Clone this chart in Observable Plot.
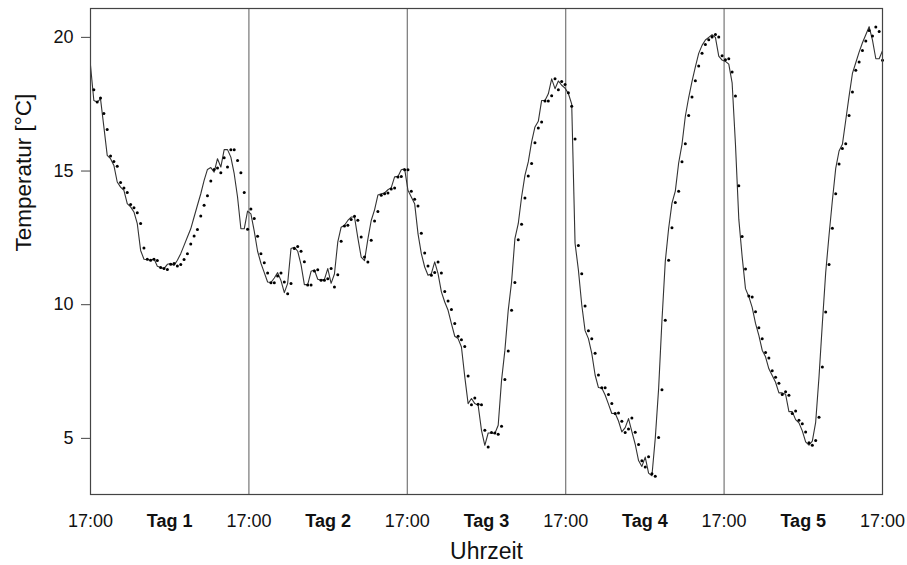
<!DOCTYPE html>
<html>
<head>
<meta charset="utf-8">
<script src="https://cdn.jsdelivr.net/npm/d3@7"></script>
<script src="https://cdn.jsdelivr.net/npm/@observablehq/plot@0.6"></script>
<style>
  html, body { margin: 0; padding: 0; background: #fff; }
  #chart { width: 907px; height: 565px; }
</style>
</head>
<body>
<div id="chart"></div>
<script>
// ---- tick labels / categories ----
const dayLabels = ["Tag 1", "Tag 2", "Tag 3", "Tag 4", "Tag 5"];
const clockLabel = "17:00";
const clockTicks = [0, 24, 48, 72, 96, 120];      // hours since start (17:00 each day)
const tagTicks = [12, 36, 60, 84, 108];            // middle of each day
const dayBounds = [24, 48, 72, 96];
const yTicks = [5, 10, 15, 20];
const xTitle = "Uhrzeit";
const yTitle = "Temperatur [°C]";

const dots1 = [18.04, 17.58, 17.73, 17.15, 16.55, 15.56, 15.36, 15.18, 14.57, 14.37, 14.20, 13.75, 13.63, 13.44, 13.04, 12.12, 11.70, 11.66, 11.70, 11.65, 11.39, 11.35, 11.32, 11.51, 11.54, 11.45, 11.50, 11.69, 11.91, 12.27, 12.57, 12.81, 13.32, 13.72, 14.08, 14.63, 15.06, 15.11, 14.94, 15.50, 15.15, 15.80, 15.80, 15.39, 14.94, 14.20, 12.82];
const dots2 = [13.58, 13.22, 12.56, 11.91, 11.57, 11.19, 10.82, 10.82, 11.07, 11.19, 10.85, 10.41, 10.79, 12.10, 12.18, 12.00, 11.61, 10.74, 10.74, 11.26, 11.31, 10.91, 10.91, 10.97, 11.35, 10.66, 11.12, 12.37, 12.94, 12.97, 13.19, 13.31, 13.16, 12.53, 11.78, 11.60, 12.41, 13.13, 13.49, 14.09, 14.15, 14.18, 14.33, 14.37, 14.78, 14.80, 15.05, 15.05];
const dots3 = [14.24, 13.94, 13.69, 12.67, 11.93, 11.45, 11.10, 11.20, 11.60, 11.19, 10.49, 10.14, 9.82, 9.30, 8.82, 8.69, 8.44, 7.33, 6.26, 6.51, 6.28, 6.26, 5.30, 4.68, 5.22, 5.20, 5.15, 5.45, 7.20, 8.27, 9.79, 10.83, 12.43, 13.01, 13.99, 14.81, 15.28, 16.06, 16.61, 16.83, 17.62, 17.62, 17.82, 18.45, 18.04, 18.35, 18.24];
const dots4 = [17.93, 17.42, 16.20, 12.21, 11.16, 9.95, 9.03, 8.73, 8.18, 7.37, 6.89, 6.89, 6.64, 6.30, 5.93, 5.95, 5.64, 5.22, 5.35, 5.76, 5.23, 4.77, 4.16, 3.93, 4.31, 3.68, 3.58, 5.03, 6.82, 9.42, 11.66, 12.88, 13.82, 14.24, 15.35, 16.02, 17.08, 17.77, 18.38, 18.93, 19.41, 19.73, 19.91, 20.01, 20.11, 20.01, 19.31, 19.16];
const dots5 = [19.20, 18.70, 17.81, 14.45, 12.55, 11.34, 10.33, 10.29, 9.74, 9.14, 8.73, 8.21, 8.01, 7.53, 7.29, 7.06, 6.64, 6.74, 6.61, 5.93, 6.02, 5.68, 5.55, 5.24, 4.84, 4.74, 4.92, 5.79, 7.67, 9.73, 11.50, 12.86, 14.15, 15.26, 15.84, 16.02, 17.08, 17.96, 18.77, 19.08, 19.51, 19.86, 20.26, 20.05, 20.39, 20.22, 19.14];

// ---- continuous curve (line), per day ----
const line1 = [18.95, 17.64, 17.58, 17.70, 16.65, 15.59, 15.46, 15.21, 14.59, 14.40, 14.28, 13.78, 13.66, 13.47, 13.03, 12.03, 11.70, 11.69, 11.66, 11.72, 11.44, 11.39, 11.35, 11.51, 11.54, 11.47, 11.66, 11.91, 12.22, 12.53, 12.84, 13.28, 13.72, 14.15, 14.65, 15.06, 15.13, 14.96, 15.46, 15.15, 15.80, 15.80, 15.52, 14.90, 14.03, 12.84, 12.84];
const line2 = [13.50, 13.40, 12.75, 12.00, 11.55, 11.20, 10.85, 10.83, 11.00, 11.20, 10.90, 10.45, 10.80, 12.10, 12.15, 12.00, 11.50, 10.75, 10.75, 11.25, 11.30, 10.95, 10.92, 10.95, 11.35, 10.80, 11.15, 12.35, 12.90, 12.97, 13.15, 13.28, 13.28, 12.50, 11.78, 11.65, 12.45, 13.15, 13.55, 14.10, 14.15, 14.18, 14.30, 14.38, 14.78, 14.80, 15.05, 15.08];
const line3 = [14.28, 14.03, 13.78, 12.66, 11.91, 11.41, 11.10, 11.16, 11.60, 11.16, 10.48, 10.10, 9.79, 9.29, 8.82, 8.73, 8.42, 7.30, 6.30, 6.49, 6.30, 6.24, 5.30, 4.74, 5.20, 5.20, 5.18, 5.49, 7.17, 8.29, 9.79, 10.85, 12.47, 13.03, 14.03, 14.84, 15.34, 16.09, 16.65, 16.86, 17.64, 17.64, 17.89, 18.45, 18.08, 18.37, 18.21];
const line4 = [18.10, 17.90, 17.50, 12.30, 11.30, 10.00, 9.03, 8.73, 8.18, 7.37, 6.90, 6.88, 6.62, 6.28, 5.93, 5.94, 5.65, 5.24, 5.40, 5.74, 5.25, 4.78, 4.17, 3.95, 4.30, 3.70, 3.60, 5.00, 6.85, 9.40, 11.62, 12.85, 13.80, 14.25, 15.30, 16.00, 17.05, 17.75, 18.35, 18.90, 19.40, 19.70, 19.90, 20.00, 20.10, 20.00, 19.30, 19.15];
const line5 = [19.10, 19.00, 18.30, 16.00, 13.20, 11.80, 10.60, 10.30, 9.90, 9.30, 8.85, 8.30, 8.05, 7.60, 7.35, 7.10, 6.70, 6.70, 6.65, 6.00, 6.00, 5.70, 5.58, 5.28, 4.87, 4.75, 4.90, 5.60, 7.30, 9.30, 11.20, 12.60, 13.90, 15.10, 15.75, 16.00, 16.90, 17.80, 18.65, 19.05, 19.45, 19.80, 20.10, 20.40, 19.90, 19.20, 19.20, 19.50];

// ---- build tables (sample spacing: 237 samples over 120 h) ----
const dotVals = [...dots1, ...dots2, ...dots3, ...dots4, ...dots5];
const lineVals = [...line1, ...line2, ...line3, ...line4, ...line5];
const step = 120 / dotVals.length;
const dotData = dotVals.map((v, i) => ({t: (i + 1) * step, v}));
const lineData = lineVals.map((v, i) => ({t: i * step, v}));

const font = "'Liberation Sans', Arial, Helvetica, sans-serif";

const chart = Plot.plot({
  width: 907,
  height: 565,
  marginLeft: 90,
  marginRight: 25,
  marginTop: 8,
  marginBottom: 71,
  style: {fontFamily: font, fontSize: "18px", background: "#fff", color: "#111"},
  x: {domain: [0, 120]},
  y: {domain: [2.9, 21.08]},
  marks: [
    Plot.ruleX(dayBounds, {stroke: "#777", strokeWidth: 1.2}),
    Plot.line(lineData, {x: "t", y: "v", stroke: "#333", strokeWidth: 1.1}),
    Plot.dot(dotData, {x: "t", y: "v", r: 1.5, fill: "#000", stroke: null}),
    Plot.frame({stroke: "#444", strokeWidth: 1.2}),
    Plot.axisY(yTicks, {
      tickSize: 9, tickPadding: 8, stroke: "#444", label: null, fontSize: 18
    }),
    Plot.axisX(clockTicks, {
      tickSize: 0, tickPadding: 20, label: null, fontSize: 18,
      tickFormat: () => clockLabel
    }),
    Plot.axisX(tagTicks, {
      tickSize: 0, tickPadding: 20, label: null, fontSize: 18, fontWeight: "bold",
      tickFormat: d => dayLabels[tagTicks.indexOf(d)]
    }),
    Plot.text([yTitle], {
      frameAnchor: "left", rotate: -90, dx: -67, fontSize: 22.5, fill: "#111"
    }),
    Plot.text([xTitle], {
      frameAnchor: "bottom", dy: 64, fontSize: 23, fill: "#111"
    })
  ]
});
document.getElementById("chart").append(chart);
</script>
</body>
</html>
